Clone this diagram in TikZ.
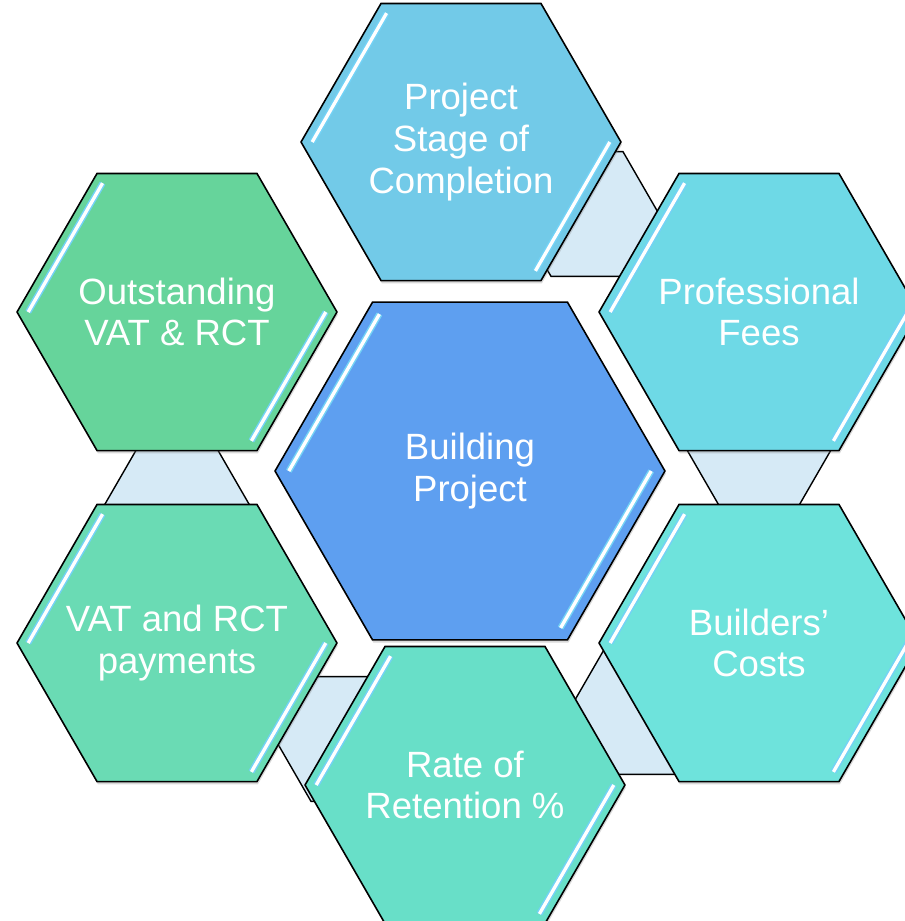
\documentclass[tikz,border=0pt]{standalone}
\usepackage{fontspec}
\setsansfont{Liberation Sans}
\usetikzlibrary{calc, shapes.geometric, shadows}

\definecolor{projblue}{RGB}{114,202,232}
\definecolor{feescyan}{RGB}{110,217,230}
\definecolor{buildteal}{RGB}{110,227,220}
\definecolor{retgreen}{RGB}{104,223,200}
\definecolor{vatgreen}{RGB}{106,219,180}
\definecolor{outgreen}{RGB}{102,212,155}
\definecolor{centerblue}{RGB}{94,159,240}
\definecolor{linkblue}{RGB}{214,234,246}

\tikzset{
  hexbox/.style={regular polygon, regular polygon sides=6, minimum size=6.4cm, inner sep=-1cm,
    draw=black, line width=0.9pt, text=white, align=center,
    font=\sffamily\fontsize{20.8}{23.8}\selectfont,
    drop shadow={opacity=0.3, shadow xshift=0.5pt, shadow yshift=-1.6pt}},
  linkbox/.style={regular polygon, regular polygon sides=6, minimum size=2.88cm, inner sep=0pt,
    draw=black, line width=0.8pt, fill=linkblue},
  gloss/.style={line width=3.6pt, white!45!cyan},
  glosscore/.style={line width=1.9pt, white}
}

% two bevel strokes inside a hexagon
\newcommand{\hexshine}[1]{
  \draw[gloss] ($(#1.center)!0.925!(#1.corner 3)$) -- ($(#1.center)!0.925!(#1.corner 2)$);
  \draw[glosscore] ($(#1.center)!0.925!(#1.corner 3)$) -- ($(#1.center)!0.925!(#1.corner 2)$);
  \draw[gloss] ($(#1.center)!0.925!(#1.corner 6)$) -- ($(#1.center)!0.925!(#1.corner 5)$);
  \draw[glosscore] ($(#1.center)!0.925!(#1.corner 6)$) -- ($(#1.center)!0.925!(#1.corner 5)$);
}

\begin{document}
\begin{tikzpicture}[x=0.02cm, y=-0.02cm]
\useasboundingbox (0,0) rectangle (905,921);
\clip (0,0) rectangle (905,921);
% Small links behind the ring
\node[linkbox] (link1) at (587,214) {};
\node[linkbox] (link2) at (759,450) {};
\node[linkbox] (link3) at (640,712) {};
\node[linkbox] (link4) at (347,739) {};
\node[linkbox] (link5) at (177,504) {};
% Outer ring
\node[hexbox, fill=projblue] (proj) at (461,142) {Project\\Stage of\\Completion};
\hexshine{proj}
\node[hexbox, fill=feescyan] (fees) at (759,312) {Professional\\Fees};
\hexshine{fees}
\node[hexbox, fill=buildteal] (costs) at (759,643) {Builders’\\Costs};
\hexshine{costs}
\node[hexbox, fill=retgreen] (retention) at (465,785) {Rate of\\Retention \%};
\hexshine{retention}
\node[hexbox, fill=vatgreen] (payments) at (177,643) {VAT and RCT\\payments};
\hexshine{payments}
\node[hexbox, fill=outgreen] (outstanding) at (177,312) {Outstanding\\VAT \& RCT};
\hexshine{outstanding}
% Centre
\node[hexbox, fill=centerblue, minimum size=7.8cm] (centre) at (470,471) {Building\\Project};
\hexshine{centre}
\end{tikzpicture}
\end{document}
